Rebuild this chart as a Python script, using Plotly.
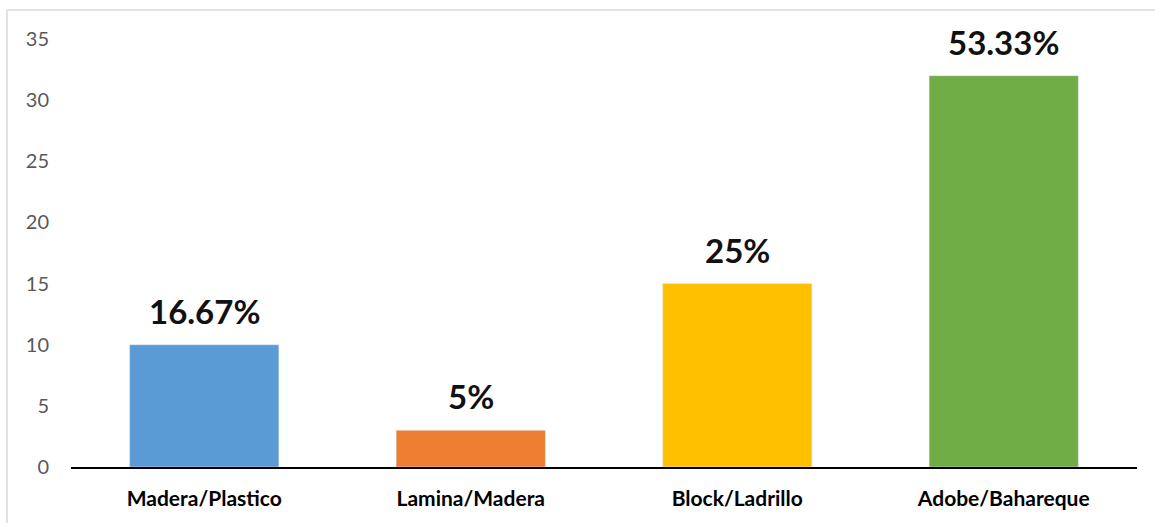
import plotly.graph_objects as go

categories = ["Madera/Plastico", "Lamina/Madera", "Block/Ladrillo", "Adobe/Bahareque"]
values = [10, 3, 15, 32]
pct_labels = ["16.67%", "5%", "25%", "53.33%"]
colors = ["#5B9BD5", "#ED7D31", "#FFC000", "#70AD47"]
y_ticks = [0, 5, 10, 15, 20, 25, 30, 35]

fig = go.Figure()
fig.add_trace(go.Bar(
    x=categories, y=values, marker_color=colors, width=0.56,
    hoverinfo="skip", showlegend=False,
))

for c, v, t in zip(categories, values, pct_labels):
    fig.add_annotation(
        x=c, y=v, text="<b>%s</b>" % t, showarrow=False,
        yanchor="bottom", yshift=12,
        font=dict(family="Lato", size=33, color="#111111"),
    )

W, H = 1155, 523
L, R, T, B = 71, 18, 39, 56
pw, ph = W - L - R, H - T - B


def px_x(p):
    return (p - L) / pw


def px_y(p):
    return (H - B - p) / ph


fig.add_shape(type="line", xref="paper", yref="paper",
              x0=px_x(7), x1=px_x(1160), y0=px_y(10), y1=px_y(10),
              line=dict(color="#D9D9D9", width=1.5))
fig.add_shape(type="line", xref="paper", yref="paper",
              x0=px_x(7), x1=px_x(7), y0=px_y(10), y1=px_y(530),
              line=dict(color="#D9D9D9", width=1.5))

fig.update_layout(
    width=W, height=H,
    margin=dict(l=L, r=R, t=T, b=B, pad=0),
    paper_bgcolor="white", plot_bgcolor="white",
    bargap=0.44,
    xaxis=dict(
        showline=True, linecolor="#000000", linewidth=2,
        showgrid=False, ticks="outside", ticklen=12, tickcolor="rgba(0,0,0,0)",
        tickfont=dict(family="Lato", size=21, color="#000000"),
        tickprefix="<b>", ticksuffix="</b>",
    ),
    yaxis=dict(
        range=[0, 35], tickvals=y_ticks, showgrid=False, zeroline=False,
        showline=False, ticks="outside", ticklen=17, tickcolor="rgba(0,0,0,0)",
        tickfont=dict(family="Lato", size=20, color="#595959"),
    ),
)

fig.write_html("out.html", config={"displayModeBar": False},
               post_script="document.body.style.margin='0';")
